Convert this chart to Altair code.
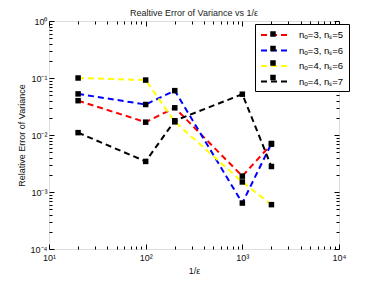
import altair as alt
import pandas as pd

# ---- data ----
x_vals = [20, 100, 200, 1000, 2000]
series_names = ["nₒ=3, nₛ=5", "nₒ=3, nₛ=6", "nₒ=4, nₛ=6", "nₒ=4, nₛ=7"]
err_3_5 = [0.040, 0.0168, 0.030, 0.0019, 0.0069]
err_3_6 = [0.0526, 0.0343, 0.060, 0.00064, 0.0071]
err_4_6 = [0.100, 0.092, 0.017, 0.0015, 0.0006]
err_4_7 = [0.011, 0.00344, 0.0178, 0.052, 0.0028]
series_colors = ["#ff0000", "#0000ff", "#ffff00", "#000000"]

x_major = [10, 100, 1000, 10000]
y_major = [1e-4, 1e-3, 1e-2, 1e-1, 1]
x_minor = [m * 10 ** e for e in (1, 2, 3) for m in range(2, 10)]
y_minor = [m * 10.0 ** e for e in (-4, -3, -2, -1) for m in range(2, 10)]

title_text = "Realtive Error of Variance vs 1/ε"
x_title = "1/ε"
y_title = "Relative Error of Variance"

FONT = "Liberation Sans"

rows = []
for name, vals in zip(series_names, [err_3_5, err_3_6, err_4_6, err_4_7]):
    for xv, yv in zip(x_vals, vals):
        rows.append({"x": xv, "err": yv, "series": name, "series2": name + "\u200b"})
df = pd.DataFrame(rows)
names2 = [n + "\u200b" for n in series_names]

sup = {-4: "⁻⁴", -3: "⁻³", -2: "⁻²", -1: "⁻¹", 0: "⁰", 1: "¹", 2: "²", 3: "³", 4: "⁴"}


def label_expr(exps):
    expr = "''"
    for e in exps:
        expr = f"(round(log(datum.value)/LN10)=={e} ? '10{sup[e]}' : {expr})"
    return expr


x_scale = alt.Scale(type="log", domain=[10, 10000], nice=False)
y_scale = alt.Scale(type="log", domain=[1e-4, 1], nice=False)


def make_axis(orient, values, size, labelled=False, exps=None, title=None, **kw):
    args = dict(orient=orient, values=values, tickSize=size, offset=-size,
                domain=False, grid=False, labels=labelled, tickColor="#000",
                tickWidth=1, title=title)
    if labelled:
        args.update(labelExpr=label_expr(exps), labelFontSize=9, labelFont=FONT,
                    labelColor="#111", labelFlush=False, labelOverlap=False,
                    titleFont=FONT, titleFontSize=9, titleFontWeight="normal",
                    titleColor="#111")
    args.update(kw)
    return alt.Axis(**args)


base = alt.Chart(df)

lines = base.mark_line(strokeDash=[6, 4], strokeWidth=2).encode(
    x=alt.X("x:Q", scale=x_scale,
            axis=make_axis("bottom", x_major, 5, True, [1, 2, 3, 4], x_title,
                           labelPadding=4, titlePadding=4)),
    y=alt.Y("err:Q", scale=y_scale,
            axis=make_axis("left", y_major, 5, True, [-4, -3, -2, -1, 0], y_title,
                           labelPadding=2, titlePadding=4)),
    color=alt.Color("series:N",
                    scale=alt.Scale(domain=series_names, range=series_colors),
                    legend=alt.Legend(orient="none", legendX=206, legendY=3, title=None,
                                      symbolType="M-2.6,0H2.6", symbolSize=100,
                                      symbolStrokeWidth=2, symbolDash=[6, 4],
                                      symbolOffset=8, labelOffset=19, padding=5,
                                      rowPadding=4.5, strokeColor="#000", fillColor="#fff",
                                      labelFontSize=9.5, labelFont=FONT, labelColor="#000",
                                      zindex=1)),
)

square_path = "M-0.55,-0.55H0.55V0.55H-0.55Z"
points = base.mark_point(filled=True, size=100, color="#000", opacity=1,
                         strokeWidth=0).encode(
    x=alt.X("x:Q", scale=x_scale, axis=make_axis("bottom", x_minor, 3)),
    y=alt.Y("err:Q", scale=y_scale, axis=make_axis("left", y_minor, 3)),
    shape=alt.Shape("series2:N",
                    scale=alt.Scale(domain=names2, range=[square_path] * 4),
                    legend=alt.Legend(orient="none", legendX=206, legendY=3, title=None,
                                      symbolSize=100, symbolFillColor="#000",
                                      symbolStrokeWidth=0, symbolOffset=8,
                                      labelOffset=19, padding=5, rowPadding=4.5,
                                      labelFontSize=9.5, labelFont=FONT,
                                      labelExpr="''", zindex=2)),
)

top_major = base.mark_point(opacity=0).encode(
    x=alt.X("x:Q", scale=x_scale, axis=make_axis("top", x_major, 5)),
    y=alt.Y("err:Q", scale=y_scale, axis=make_axis("right", y_major, 5)),
)
top_minor = base.mark_point(opacity=0).encode(
    x=alt.X("x:Q", scale=x_scale, axis=make_axis("top", x_minor, 3)),
    y=alt.Y("err:Q", scale=y_scale, axis=make_axis("right", y_minor, 3)),
)

chart = (
    alt.layer(lines, points, top_major, top_minor)
    .resolve_scale(x="shared", y="shared")
    .resolve_axis(x="independent", y="independent")
    .properties(
        width=290,
        height=228,
        autosize=alt.AutoSizeParams(type="none"),
        padding={"left": 41, "top": 13, "right": 27, "bottom": 30},
        title=alt.TitleParams(title_text, font=FONT, fontSize=9, fontWeight="normal",
                              color="#222", offset=-1, anchor="middle"),
    )
    .configure_view(stroke="#000", strokeWidth=1)
    .configure(background="white")
)

chart.save("out.html", embed_options={"renderer": "svg", "actions": False})
